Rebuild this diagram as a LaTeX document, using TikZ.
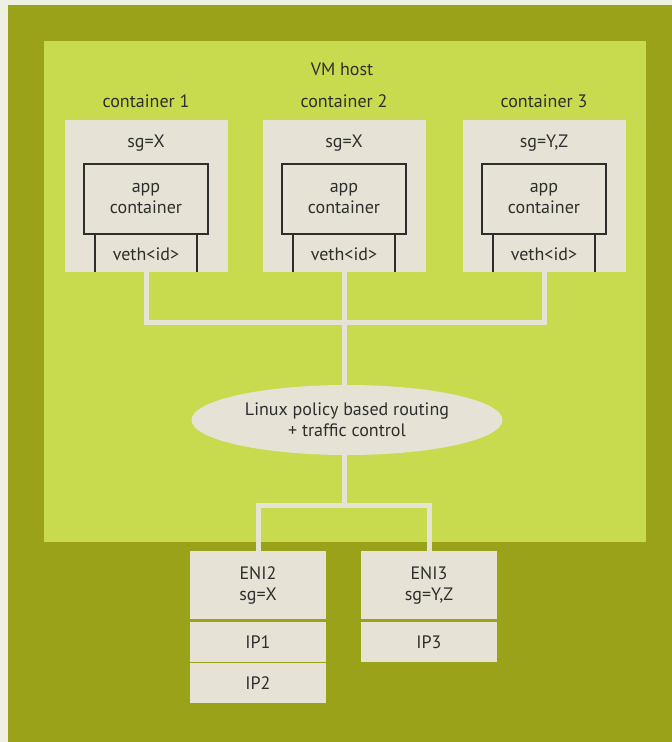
\documentclass[tikz,border=0pt]{standalone}
\usepackage{fontspec}
\setmainfont{PT Sans}
\usetikzlibrary{shapes.geometric}
\definecolor{paper}{HTML}{EEF0E2}
\definecolor{olive}{HTML}{9AA21A}
\definecolor{lime}{HTML}{C8DB4E}
\definecolor{beige}{HTML}{E6E3D6}
\definecolor{ink}{HTML}{2E2E2E}
\tikzset{
  lbl/.style={font=\fontsize{18}{21}\selectfont, text=ink, inner sep=0pt},
  panel/.style={fill=beige, draw=none, inner sep=0pt},
  wire/.style={draw=beige, line width=5pt, line join=miter, line cap=butt},
  frame/.style={draw=ink, line width=1.8pt},
}
\begin{document}
\begin{tikzpicture}[x=1pt,y=-1pt]
  % background layers
  \fill[paper] (0,0) rectangle (672,742);
  \fill[olive] (8,5) rectangle (672,742);
  \fill[lime] (44,41) rectangle (646,542);
  \useasboundingbox (0,0) rectangle (672,742);

  \node[lbl] (vm) at (342,69) {VM host};

  % container boxes
  \foreach \i/\cx/\sg in {1/146/X, 2/344/X, 3/544/{Y,Z}} {
    \node[lbl] (t\i) at (\cx,101) {container \i};
    \node[panel, minimum width=163pt, minimum height=152pt, anchor=north] (c\i) at (\cx,120) {};
    \node[lbl] (sg\i) at (\cx,143) {sg=\sg};
    \node[frame, fill=beige, minimum width=124pt, minimum height=70pt, inner sep=0pt, anchor=north] (app\i) at (\cx,163) {};
    \node[lbl, align=center] at (app\i) {app\\container};
    \draw[frame] ([xshift=-51pt]\cx,233) -- ([xshift=-51pt]\cx,272);
    \draw[frame] ([xshift=51pt]\cx,233) -- ([xshift=51pt]\cx,272);
    \node[lbl] (veth\i) at (\cx,254) {veth<id>};
  }

  % routing element
  \node[ellipse, fill=beige, minimum width=311pt, minimum height=70pt, inner sep=0pt] (pbr) at (347,420) {};
  \node[lbl, align=center] at (347,420) {Linux policy based routing\\+ traffic control};

  % ENIs and IPs
  \node[panel, minimum width=136pt, minimum height=68pt, anchor=north] (eni2) at (258,551) {};
  \node[lbl, align=center] at (eni2) {ENI2\\sg=X};
  \node[panel, minimum width=136pt, minimum height=40pt, anchor=north] (ip1) at (258,622) {};
  \node[lbl] at (ip1) {IP1};
  \node[panel, minimum width=136pt, minimum height=40pt, anchor=north] (ip2) at (258,663) {};
  \node[lbl] at (ip2) {IP2};
  \node[panel, minimum width=136pt, minimum height=68pt, anchor=north] (eni3) at (429,551) {};
  \node[lbl, align=center] at (eni3) {ENI3\\sg=Y,Z};
  \node[panel, minimum width=136pt, minimum height=40pt, anchor=north] (ip3) at (429,622) {};
  \node[lbl] at (ip3) {IP3};

  % connectors
  \coordinate (bus) at (344,322);
  \coordinate (split) at (344,505);
  \draw[wire] (c1.south) -- (c1.south |- bus) -- (c3.south |- bus) -- (c3.south);
  \draw[wire] (c2.south) -- (c2.south |- pbr.north);
  \draw[wire] (pbr.south -| split) -- (split);
  \draw[wire] (eni2.north) -- (eni2.north |- split) -- (eni3.north |- split) -- (eni3.north);
\end{tikzpicture}
\end{document}
